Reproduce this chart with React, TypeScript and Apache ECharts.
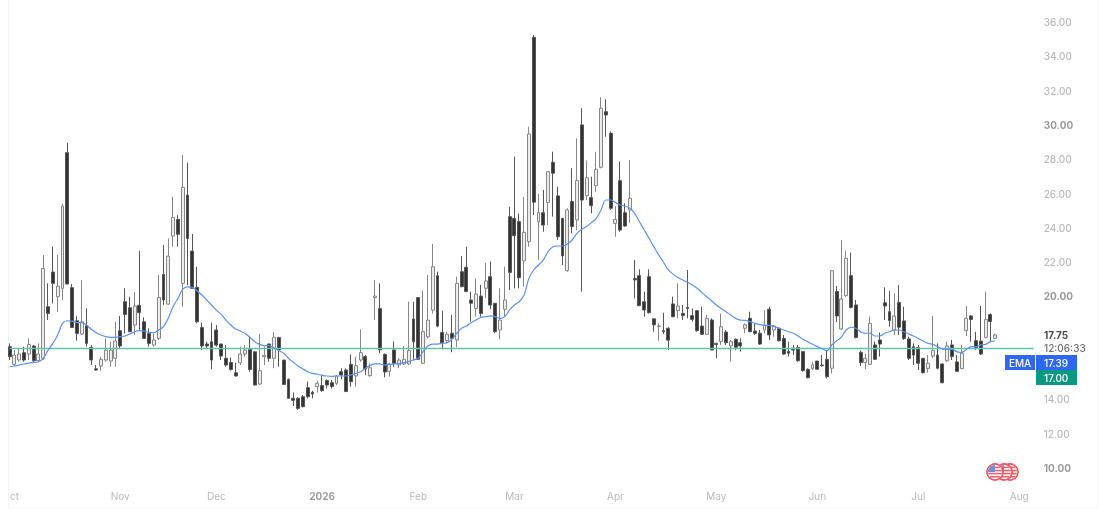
import React, { useEffect, useRef } from "react";
import * as echarts from "echarts";

const opens = [
  17.07,16.04,16.29,16.72,16.64,17.11,16.25,16.39,19.40,21.42,
  19.98,20.47,28.38,20.51,18.58,17.81,18.29,17.03,15.78,15.94,
  16.29,16.23,16.39,18.00,19.69,19.34,18.33,19.48,18.52,17.84,
  17.16,17.55,21.28,19.55,23.52,24.49,20.76,25.91,22.64,20.53,
  18.19,17.22,17.36,18.04,17.22,16.39,16.15,15.55,16.13,16.64,
  16.91,16.77,14.89,16.48,17.22,16.39,17.61,16.29,15.16,14.06,
  14.06,14.15,14.68,14.41,14.74,14.80,15.09,14.97,14.93,15.61,
  15.71,16.04,15.36,16.29,16.49,15.38,19.93,19.29,16.62,15.63,
  16.88,16.00,16.06,16.06,18.68,19.93,16.10,17.65,19.20,21.21,
  17.90,17.42,17.85,17.46,21.44,21.70,19.79,19.30,20.02,20.47,
  21.15,19.60,18.04,19.25,24.65,24.55,24.36,22.07,23.19,35.11,
  24.36,24.88,25.47,27.82,25.86,24.55,21.50,25.54,24.46,30.00,
  25.87,25.76,26.46,27.53,30.77,29.51,24.26,26.75,24.88,25.04,
  21.05,21.21,19.69,21.15,18.69,18.24,18.00,18.14,19.56,19.17,
  19.01,19.36,18.88,19.17,18.27,17.79,18.62,17.26,17.36,17.92,
  17.11,17.50,17.30,18.14,18.72,17.98,17.85,18.04,19.25,18.04,
  18.14,17.55,16.80,16.97,17.03,16.78,15.75,15.80,16.23,16.00,
  16.33,15.81,20.28,18.10,20.04,21.21,19.50,16.74,16.14,16.04,
  17.17,17.46,19.63,19.11,18.04,19.65,18.57,17.52,17.07,17.01,
  16.39,15.79,16.52,16.58,16.06,16.25,17.17,16.18,15.79,18.00,
  18.86,17.42,17.40,17.61,18.94,17.55,
];
const closes = [
  16.48,16.58,16.64,16.29,17.20,16.25,16.64,21.63,19.01,20.76,
  20.60,25.27,20.72,18.19,17.84,18.52,17.26,16.29,15.71,16.33,
  16.87,16.87,17.40,17.11,18.95,17.94,19.44,19.05,17.55,17.26,
  17.46,19.94,19.79,22.35,24.61,23.62,26.36,23.38,20.47,18.52,
  17.11,17.11,16.29,17.16,16.52,16.00,15.74,15.36,16.64,16.87,
  15.74,14.83,15.67,16.55,16.39,17.61,16.88,14.87,14.06,13.94,
  13.47,13.57,14.15,14.31,14.93,14.50,14.83,14.74,15.36,15.42,
  14.45,15.03,15.96,16.72,15.77,15.84,20.02,16.88,15.59,16.06,
  16.10,16.29,16.33,16.84,17.36,16.33,17.94,18.62,21.73,18.27,
  17.30,17.79,17.56,20.76,20.57,20.28,19.60,20.14,19.00,20.90,
  19.50,17.94,18.62,19.79,21.40,23.54,21.09,23.74,29.47,25.49,
  24.90,24.16,27.27,27.18,23.48,22.36,25.04,24.07,26.75,25.62,
  26.92,25.29,27.41,30.97,30.58,25.14,24.49,23.87,24.10,25.72,
  20.96,19.46,19.21,19.05,18.34,18.28,17.94,17.45,18.82,19.44,
  18.88,19.29,18.66,18.00,17.79,18.72,16.87,17.20,18.23,17.30,
  17.36,17.03,17.11,18.35,17.94,17.85,17.22,18.33,17.75,18.27,
  17.42,16.64,16.68,16.87,16.25,15.67,15.26,16.02,15.75,15.96,
  15.32,21.50,18.86,19.85,22.22,19.36,17.61,16.14,16.39,18.43,
  16.33,17.22,19.44,18.59,18.86,18.20,17.55,16.39,16.58,16.10,
  15.55,16.10,16.84,15.81,14.97,17.11,16.49,15.63,16.68,18.72,
  18.66,16.97,16.64,18.66,18.53,17.75,
];
const lows = [
  16.29,15.94,16.19,16.19,16.29,16.15,16.19,16.29,18.62,19.59,
  19.11,19.79,20.72,18.19,17.42,17.75,17.07,16.00,15.67,15.67,
  16.19,15.90,15.90,16.97,17.84,17.94,17.75,18.04,17.55,17.07,
  17.07,17.46,19.50,19.50,22.90,22.90,19.40,20.66,20.47,18.43,
  16.87,16.97,15.75,17.07,16.29,15.90,15.67,15.32,16.00,16.48,
  15.61,14.83,14.83,16.00,16.19,15.81,15.90,14.83,14.06,13.61,
  13.38,13.53,14.06,14.06,14.39,14.45,14.64,14.64,14.83,15.17,
  14.45,14.74,14.74,16.19,15.42,15.32,18.62,16.68,15.28,15.32,
  15.90,15.81,16.00,16.00,16.29,16.29,16.06,17.55,19.00,18.20,
  16.91,17.26,16.74,17.03,20.53,20.28,18.53,18.82,18.82,19.90,
  19.25,17.85,17.50,18.82,20.37,20.47,20.47,20.57,22.90,24.75,
  22.12,23.77,24.16,24.65,23.29,21.83,21.44,23.68,23.87,20.28,
  25.62,24.84,26.10,27.47,29.31,25.04,23.48,23.77,24.07,24.30,
  19.89,19.44,18.82,19.00,17.94,17.42,17.80,16.88,18.78,18.72,
  18.62,18.72,18.53,17.94,17.75,17.75,16.87,16.39,17.17,17.17,
  16.19,16.87,16.78,17.85,17.94,17.75,17.17,17.85,17.46,17.65,
  17.36,16.58,16.49,16.58,16.19,15.61,15.22,15.71,15.71,15.90,
  15.22,15.51,18.50,18.04,19.98,19.30,17.55,15.94,15.75,16.00,
  16.29,16.49,18.62,18.24,17.75,17.75,17.46,16.29,16.00,15.71,
  15.51,15.55,16.39,15.75,14.93,16.19,16.29,15.59,15.75,17.69,
  17.36,16.88,16.58,17.55,17.36,17.53,
];
const highs = [
  17.26,16.87,16.97,17.07,17.55,17.16,17.26,22.41,20.76,22.90,
  22.41,25.39,28.96,20.72,18.85,20.95,19.30,17.16,16.00,16.48,
  17.55,17.36,18.52,18.85,20.47,19.98,20.27,22.66,18.78,18.14,
  17.84,21.25,23.00,23.38,25.81,24.74,28.24,27.80,23.64,21.73,
  18.47,17.36,18.47,18.33,17.26,17.16,16.44,16.13,17.07,17.16,
  17.65,16.77,17.81,17.07,17.26,17.94,17.61,16.29,15.22,14.39,
  14.12,14.25,15.03,14.50,15.07,15.42,15.17,15.13,15.42,15.81,
  15.81,16.62,16.49,18.08,16.58,16.10,20.96,20.76,16.68,16.14,
  17.36,16.39,17.11,19.69,19.69,19.95,20.33,21.25,23.06,21.44,
  19.17,17.94,18.92,21.15,22.36,22.90,20.28,21.05,20.67,21.95,
  22.03,19.60,20.47,21.73,25.23,28.15,24.84,25.82,29.90,35.24,
  25.97,26.21,27.27,28.44,26.40,24.55,25.14,27.47,29.22,30.97,
  27.92,26.98,28.44,31.61,31.49,29.61,25.27,27.86,25.43,27.95,
  22.12,21.58,20.28,21.58,18.69,18.43,19.05,18.20,19.98,20.76,
  19.50,21.54,19.30,19.20,19.40,18.91,18.72,17.30,19.00,18.04,
  17.46,17.55,17.55,18.43,19.11,18.43,18.04,19.20,19.40,18.33,
  18.20,17.75,17.36,17.17,17.17,16.78,15.80,16.19,16.23,16.58,
  16.88,21.54,20.60,23.29,22.67,22.55,19.79,16.84,16.64,18.82,
  17.36,17.89,20.53,20.32,20.18,20.66,19.40,17.65,17.26,17.17,
  16.39,16.58,18.86,17.26,16.10,17.36,17.46,16.58,17.17,19.44,
  18.92,17.94,19.44,20.28,19.01,17.81,
];
const emaValues = [
  15.90,15.94,16.00,16.06,16.11,16.15,16.19,16.39,16.87,17.26,
  17.75,18.43,18.58,18.56,18.47,18.47,18.33,18.08,17.88,17.75,
  17.65,17.61,17.61,17.65,17.69,17.81,17.94,18.00,17.98,17.90,
  17.88,18.04,18.23,18.72,19.40,19.88,20.41,20.56,20.53,20.33,
  20.08,19.79,19.50,19.20,18.95,18.62,18.33,18.10,17.98,17.84,
  17.61,17.36,17.20,17.12,17.13,16.99,16.84,16.68,16.39,16.16,
  15.94,15.77,15.61,15.51,15.46,15.40,15.36,15.34,15.36,15.36,
  15.36,15.42,15.51,15.61,15.81,15.98,16.06,16.06,16.00,16.04,
  16.06,16.08,16.14,16.20,16.29,16.39,16.78,17.11,17.22,17.22,
  17.26,17.30,17.50,17.85,18.14,18.27,18.47,18.62,18.78,18.82,
  18.86,18.82,18.72,18.82,19.21,19.50,19.69,20.08,21.05,21.54,
  21.83,22.12,22.61,22.90,22.94,22.94,23.06,23.29,23.68,23.91,
  24.07,24.30,24.55,25.04,25.62,25.62,25.47,25.33,25.27,25.14,
  24.84,24.36,23.87,23.39,22.90,22.42,21.99,21.54,21.30,21.10,
  20.96,20.82,20.66,20.47,20.22,19.98,19.75,19.50,19.30,19.11,
  18.91,18.72,18.62,18.60,18.53,18.43,18.35,18.31,18.31,18.25,
  18.14,18.04,17.94,17.85,17.69,17.50,17.36,17.21,17.07,16.95,
  16.83,17.17,17.40,17.63,18.04,18.20,18.14,17.94,17.85,17.85,
  17.69,17.69,17.85,17.94,18.04,18.04,17.94,17.81,17.69,17.55,
  17.40,17.26,17.20,17.07,16.93,16.91,16.91,16.78,16.72,16.91,
  17.07,17.07,17.17,17.20,17.36,17.40,
];

const totalSlots = 214;
const monthIndex = [1, 23, 43, 65, 85, 105, 126, 147, 168, 189, 210];
const monthLabels = ["ct", "Nov", "Dec", "2026", "Feb", "Mar", "Apr", "May", "Jun", "Jul", "Aug"];
const priceTicks = [36, 34, 32, 30, 28, 26, 24, 22, 20, 14, 12, 10];
const strongTicks = [30, 20, 10];
const lastPrice = "17.75";
const countdown = "12:06:33";
const emaLabel = "17.39";
const priceLevel = 17.0;
const priceLevelLabel = "17.00";

const FONT = "Inter";
const categories = Array.from({ length: totalSlots }, (_, i) => {
  const k = monthIndex.indexOf(i);
  return k >= 0 ? monthLabels[k] : "";
});
const candles = opens.map((o, i) => [o, closes[i], lows[i], highs[i]]);

function flag(cx: number, cy: number) {
  const red = "#f2606a";
  const stripes = [-4.6, -1.5, 1.6, 4.7].map((dy) => {
    const half = Math.sqrt(Math.max(0, 49 - dy * dy));
    return {
      type: "rect",
      shape: { x: -half, y: dy - 0.8, width: 2 * half, height: 1.6 },
      style: { fill: red },
    };
  });
  return {
    type: "group",
    x: cx,
    y: cy,
    children: [
      { type: "circle", shape: { cx: 0, cy: 0, r: 8 }, style: { fill: "#fff", stroke: "#f4525d", lineWidth: 1.6 } },
      ...stripes,
      { type: "sector", shape: { cx: 0, cy: 0, r: 7, r0: 0, startAngle: Math.PI, endAngle: 1.5 * Math.PI }, style: { fill: "#6f8fd6" } },
    ],
  };
}

export default function App() {
  const ref = useRef<HTMLDivElement>(null);
  useEffect(() => {
    const chart = echarts.init(ref.current!, undefined, { renderer: "svg" });
    chart.setOption({
      animation: false,
      backgroundColor: "#fff",
      grid: { left: 9.6, top: 22, width: 1024.1, height: 480.2 },
      xAxis: {
        type: "category",
        data: categories,
        boundaryGap: false,
        axisLine: { show: false },
        axisTick: { show: false },
        splitLine: { show: false },
        axisLabel: {
          inside: true,
          margin: 1,
          interval: (i: number) => monthIndex.indexOf(i) >= 0,
          hideOverlap: false,
          formatter: (v: string) => (v === "2026" ? `{b|${v}}` : `{m|${v}}`),
          rich: {
            m: { fontFamily: FONT, fontSize: 10, color: "#b9b9b9" },
            b: { fontFamily: FONT, fontSize: 10, fontWeight: 700, color: "#9c9c9c" },
          },
        },
      },
      yAxis: {
        type: "value",
        position: "right",
        min: 8,
        max: 36,
        interval: 2,
        scale: true,
        axisLine: { show: false },
        axisTick: { show: false },
        splitLine: { show: false },
        axisLabel: {
          margin: 10,
          align: "left",
          formatter: (v: number) => {
            if (priceTicks.indexOf(v) < 0) return "";
            const t = v.toFixed(2);
            return strongTicks.indexOf(v) >= 0 ? `{b|${t}}` : `{m|${t}}`;
          },
          rich: {
            m: { fontFamily: FONT, fontSize: 10, fontWeight: 500, color: "#b9b9b9" },
            b: { fontFamily: FONT, fontSize: 10, fontWeight: 700, color: "#9a9a9a" },
          },
        },
      },
      series: [
        {
          type: "candlestick",
          data: candles,
          barWidth: 3.4,
          itemStyle: {
            color: "#ececec",
            color0: "#333333",
            borderColor: "#868686",
            borderColor0: "#555555",
            borderWidth: 1,
          },
          markLine: {
            silent: true,
            symbol: "none",
            label: { show: false },
            lineStyle: { color: "#63c2ae", width: 1.4, type: "solid" },
            data: [{ yAxis: priceLevel }],
          },
        },
        {
          type: "line",
          data: emaValues,
          showSymbol: false,
          smooth: 0.3,
          lineStyle: { color: "#5b8ff2", width: 1.2 },
          z: 5,
        },
      ],
      graphic: [
        { type: "rect", z: -1, shape: { x: 8.5, y: -2, width: 1089.5, height: 510 }, style: { fill: "none", stroke: "#f3f3f3", lineWidth: 1 } },
        { type: "text", x: 1044, y: 335, style: { text: lastPrice, font: `700 10px ${FONT}`, fill: "#4a4a4a", verticalAlign: "middle" } },
        { type: "text", x: 1044, y: 347.5, style: { text: countdown, font: `500 10px ${FONT}`, fill: "#6e6e6e", verticalAlign: "middle" } },
        { type: "rect", shape: { x: 1005, y: 355, width: 30, height: 15 }, style: { fill: "#2f66f5" } },
        { type: "text", x: 1020, y: 362.5, style: { text: "EMA", font: `500 10px ${FONT}`, fill: "#fff", align: "center", verticalAlign: "middle" } },
        { type: "rect", shape: { x: 1036, y: 355, width: 41, height: 15 }, style: { fill: "#2f66f5" } },
        { type: "text", x: 1044, y: 362.5, style: { text: emaLabel, font: `500 10px ${FONT}`, fill: "#fff", verticalAlign: "middle" } },
        { type: "rect", shape: { x: 1036, y: 370, width: 41, height: 15 }, style: { fill: "#089981" } },
        { type: "text", x: 1044, y: 377.5, style: { text: priceLevelLabel, font: `500 10px ${FONT}`, fill: "#fff", verticalAlign: "middle" } },
        flag(1010, 472),
        flag(1004, 472),
        flag(995, 472),
      ],
    });
    return () => chart.dispose();
  }, []);
  return <div ref={ref} style={{ position: "absolute", left: 0, top: 0, width: 1108, height: 516, filter: "blur(0.4px)" }} />;
}
